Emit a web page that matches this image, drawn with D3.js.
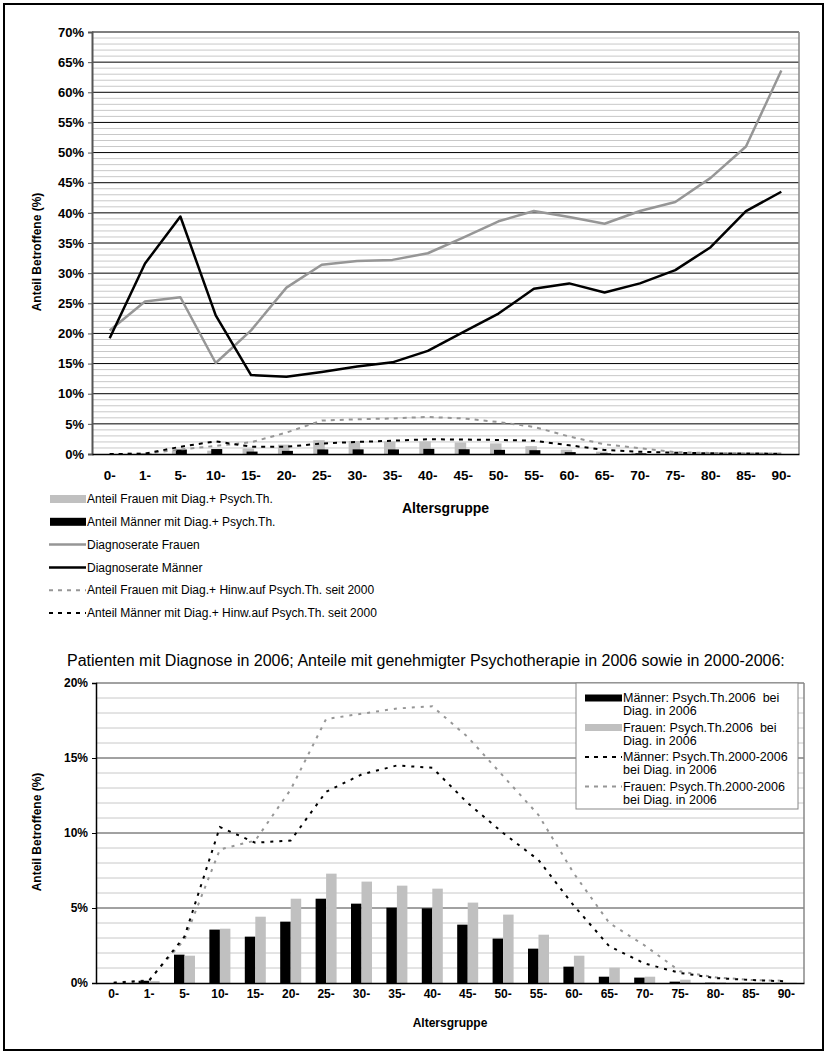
<!DOCTYPE html>
<html><head><meta charset="utf-8">
<script src="https://cdn.jsdelivr.net/npm/d3@7"></script>
<style>
body{margin:0;background:#fff}
text{font-family:"Liberation Sans",Arial,sans-serif;fill:#000}
</style>
</head><body>
<svg id="c" width="828" height="1055"></svg>
<script>
// Age groups (x categories)
const ageGroups = ["0-","1-","5-","10-","15-","20-","25-","30-","35-","40-","45-","50-","55-","60-","65-","70-","75-","80-","85-","90-"];

// Upper chart: diagnosis rate and shares of population (%)
const rateWomen = [20.5,25.3,26.0,15.1,20.5,27.6,31.4,32.0,32.2,33.3,35.9,38.6,40.3,39.3,38.2,40.3,41.8,45.8,51.0,63.6];
const rateMen   = [19.2,31.6,39.4,23.0,13.1,12.8,13.6,14.5,15.2,17.1,20.2,23.3,27.4,28.3,26.8,28.3,30.5,34.3,40.3,43.5];
const barWomenTop = [0.0,0.03,0.47,0.55,0.91,1.55,2.29,2.16,2.09,2.09,1.92,1.76,1.30,0.72,0.39,0.17,0.09,0.02,0.01,0.01];
const barMenTop   = [0.0,0.05,0.74,0.82,0.40,0.52,0.76,0.77,0.76,0.85,0.79,0.69,0.63,0.31,0.11,0.10,0.03,0.01,0.0,0.0];
const hintWomenTop = [0.0,0.05,0.75,1.35,1.95,3.55,5.55,5.75,5.90,6.15,5.90,5.30,4.50,2.90,1.60,0.95,0.30,0.17,0.10,0.10];
const hintMenTop   = [0.0,0.05,1.20,2.10,1.22,1.20,1.74,2.00,2.20,2.45,2.40,2.33,2.20,1.45,0.67,0.37,0.20,0.11,0.08,0.05];
const topTicks = [0,5,10,15,20,25,30,35,40,45,50,55,60,65,70];

// Lower chart: shares of diagnosed patients with psychotherapy (%)
const therapyMen2006   = [0.0,0.15,1.89,3.56,3.09,4.09,5.62,5.29,5.02,4.98,3.89,2.96,2.29,1.09,0.42,0.36,0.09,0.02,0.01,0.01];
const therapyWomen2006 = [0.0,0.13,1.82,3.62,4.42,5.62,7.29,6.76,6.49,6.29,5.36,4.56,3.22,1.82,1.02,0.42,0.22,0.05,0.02,0.02];
const therapyMen2000   = [0.02,0.15,3.1,10.4,9.35,9.5,12.75,13.9,14.5,14.35,12.0,10.0,8.2,5.15,2.45,1.3,0.67,0.33,0.2,0.11];
const therapyWomen2000 = [0.02,0.2,2.9,8.9,9.5,12.9,17.6,17.95,18.3,18.45,16.4,13.8,11.2,7.3,4.0,2.5,0.78,0.38,0.2,0.15];
const bottomTicks = [0,5,10,15,20];

const FONT = "Liberation Sans, Arial, sans-serif";
const GRAY_LINE = "#969696", GRAY_BAR = "#c0c0c0", MINOR = "#c8c8c8";
const svg = d3.select("#c");
svg.append("rect").attr("width",828).attr("height",1055).attr("fill","#fff");
svg.append("rect").attr("x",4).attr("y",4).attr("width",819).attr("height",1046)
  .attr("fill","none").attr("stroke","#000").attr("stroke-width",2);

// ---------- Upper chart ----------
const T = {left:92, right:799, top:32, bottom:454};
const xT = d3.scaleBand().domain(ageGroups).range([T.left, T.right]);
const yT = d3.scaleLinear().domain([0,70]).range([T.bottom, T.top]);
const cT = d => xT(d) + xT.bandwidth()/2;

const gT = svg.append("g");
gT.selectAll("line.minor").data(d3.range(1,70).filter(v => v % 5 !== 0)).join("line")
  .attr("x1",T.left).attr("x2",T.right).attr("y1",d=>yT(d)).attr("y2",d=>yT(d))
  .attr("stroke",MINOR).attr("stroke-width",1);
gT.selectAll("line.major").data(topTicks.filter(v=>v>0)).join("line")
  .attr("x1",T.left).attr("x2",T.right).attr("y1",d=>yT(d)).attr("y2",d=>yT(d))
  .attr("stroke","#000").attr("stroke-width",1);
gT.append("line").attr("x1",T.right).attr("x2",T.right).attr("y1",T.top).attr("y2",T.bottom)
  .attr("stroke","#888").attr("stroke-width",1.5);

// bars
gT.selectAll("rect.w").data(ageGroups).join("rect")
  .attr("x",d=>cT(d)-8.5).attr("width",11.5)
  .attr("y",(d,i)=>yT(barWomenTop[i])).attr("height",(d,i)=>yT(0)-yT(barWomenTop[i]))
  .attr("fill",GRAY_BAR);
gT.selectAll("rect.m").data(ageGroups).join("rect")
  .attr("x",d=>cT(d)-4.5).attr("width",11)
  .attr("y",(d,i)=>yT(barMenTop[i])).attr("height",(d,i)=>yT(0)-yT(barMenTop[i]))
  .attr("fill","#000");

const lineT = d3.line().x((v,i)=>cT(ageGroups[i])).y(v=>yT(v));
gT.append("path").datum(hintWomenTop).attr("d",lineT).attr("fill","none")
  .attr("stroke",GRAY_LINE).attr("stroke-width",2).attr("stroke-dasharray","4,5");
gT.append("path").datum(hintMenTop).attr("d",lineT).attr("fill","none")
  .attr("stroke","#000").attr("stroke-width",2).attr("stroke-dasharray","4,5");
gT.append("path").datum(rateWomen).attr("d",lineT).attr("fill","none")
  .attr("stroke",GRAY_LINE).attr("stroke-width",2.5).attr("stroke-linejoin","round");
gT.append("path").datum(rateMen).attr("d",lineT).attr("fill","none")
  .attr("stroke","#000").attr("stroke-width",2.5).attr("stroke-linejoin","round");

// axes
const axT = gT.append("g").attr("transform",`translate(${T.left},0)`)
  .call(d3.axisLeft(yT).tickValues(topTicks).tickFormat(d=>d+"%").tickSize(4).tickPadding(4));
axT.select(".domain").attr("stroke","#555").attr("stroke-width",2);
axT.selectAll(".tick line").attr("stroke","#555");
axT.selectAll("text").attr("font-size",13).attr("font-weight","bold").attr("font-family",FONT);
const axTx = gT.append("g").attr("transform",`translate(0,${T.bottom})`)
  .call(d3.axisBottom(xT).tickSize(0).tickPadding(16));
axTx.select(".domain").attr("stroke","#000").attr("stroke-width",1.5);
axTx.selectAll("text").attr("font-size",13.5).attr("font-weight","bold").attr("font-family",FONT);

svg.append("text").attr("x",(T.left+T.right)/2).attr("y",508).attr("dy","0.35em").attr("text-anchor","middle")
  .attr("font-size",14).attr("font-weight","bold").text("Altersgruppe");
svg.append("text").attr("transform",`translate(41,252) rotate(-90)`).attr("text-anchor","middle")
  .attr("font-size",12).attr("font-weight","bold").text("Anteil Betroffene (%)");

// legend (upper chart)
const legT = [
  {label:"Anteil Frauen mit Diag.+ Psych.Th.", type:"bar", color:GRAY_BAR},
  {label:"Anteil Männer mit Diag.+ Psych.Th.", type:"bar", color:"#000"},
  {label:"Diagnoserate Frauen", type:"line", color:GRAY_LINE},
  {label:"Diagnoserate Männer", type:"line", color:"#000"},
  {label:"Anteil Frauen mit Diag.+ Hinw.auf Psych.Th. seit 2000", type:"dash", color:GRAY_LINE},
  {label:"Anteil Männer mit Diag.+ Hinw.auf Psych.Th. seit 2000", type:"dash", color:"#000"}
];
const lg = svg.append("g");
legT.forEach((it,i)=>{
  const y = 499 + i*22.8;
  if (it.type==="bar") lg.append("rect").attr("x",50).attr("y",y-4).attr("width",36).attr("height",8).attr("fill",it.color);
  else lg.append("line").attr("x1",49).attr("x2",86).attr("y1",y).attr("y2",y)
    .attr("stroke",it.color).attr("stroke-width",it.type==="line"?2.5:2)
    .attr("stroke-dasharray",it.type==="dash"?"4,5":null);
  lg.append("text").attr("x",87).attr("y",y).attr("dy","0.35em").attr("font-size",12).text(it.label);
});

// ---------- Lower chart ----------
const B = {left:96, right:804, top:683, bottom:983};
const xB = d3.scaleBand().domain(ageGroups).range([B.left, B.right]);
const yB = d3.scaleLinear().domain([0,20]).range([B.bottom, B.top]);
const cB = d => xB(d) + xB.bandwidth()/2;

svg.append("text").attr("x",67).attr("y",660).attr("dy","0.35em").attr("font-size",16)
  .text("Patienten mit Diagnose in 2006; Anteile mit genehmigter Psychotherapie in 2006 sowie in 2000-2006:");

const gB = svg.append("g");
gB.selectAll("line.minor").data(d3.range(1,20).filter(v => v % 5 !== 0)).join("line")
  .attr("x1",B.left).attr("x2",B.right).attr("y1",d=>yB(d)).attr("y2",d=>yB(d))
  .attr("stroke",MINOR).attr("stroke-width",1);
gB.selectAll("line.major").data(bottomTicks.filter(v=>v>0)).join("line")
  .attr("x1",B.left).attr("x2",B.right).attr("y1",d=>yB(d)).attr("y2",d=>yB(d))
  .attr("stroke","#444").attr("stroke-width",1);
gB.append("line").attr("x1",B.right).attr("x2",B.right).attr("y1",B.top).attr("y2",B.bottom)
  .attr("stroke","#888").attr("stroke-width",1.5);

gB.selectAll("rect.m").data(ageGroups).join("rect")
  .attr("x",d=>cB(d)-10.5).attr("width",10.5)
  .attr("y",(d,i)=>yB(therapyMen2006[i])).attr("height",(d,i)=>yB(0)-yB(therapyMen2006[i]))
  .attr("fill","#000");
gB.selectAll("rect.w").data(ageGroups).join("rect")
  .attr("x",d=>cB(d)).attr("width",10.5)
  .attr("y",(d,i)=>yB(therapyWomen2006[i])).attr("height",(d,i)=>yB(0)-yB(therapyWomen2006[i]))
  .attr("fill",GRAY_BAR);

const lineB = d3.line().x((v,i)=>cB(ageGroups[i])).y(v=>yB(v));
gB.append("path").datum(therapyWomen2000).attr("d",lineB).attr("fill","none")
  .attr("stroke",GRAY_LINE).attr("stroke-width",2).attr("stroke-dasharray","3,6");
gB.append("path").datum(therapyMen2000).attr("d",lineB).attr("fill","none")
  .attr("stroke","#000").attr("stroke-width",2).attr("stroke-dasharray","3,6");

const axB = gB.append("g").attr("transform",`translate(${B.left},0)`)
  .call(d3.axisLeft(yB).tickValues(bottomTicks).tickFormat(d=>d+"%").tickSize(4).tickPadding(4));
axB.select(".domain").attr("stroke","#000").attr("stroke-width",1.5);
axB.selectAll(".tick line").attr("stroke","#000");
axB.selectAll("text").attr("font-size",12).attr("font-weight","bold").attr("font-family",FONT);
const axBx = gB.append("g").attr("transform",`translate(0,${B.bottom})`)
  .call(d3.axisBottom(xB).tickSize(0).tickPadding(6));
axBx.select(".domain").attr("stroke","#000").attr("stroke-width",1.5);
axBx.selectAll("text").attr("font-size",12).attr("font-weight","bold").attr("font-family",FONT);

svg.append("text").attr("x",(B.left+B.right)/2).attr("y",1023).attr("dy","0.35em").attr("text-anchor","middle")
  .attr("font-size",12).attr("font-weight","bold").text("Altersgruppe");
svg.append("text").attr("transform",`translate(41,832) rotate(-90)`).attr("text-anchor","middle")
  .attr("font-size",12).attr("font-weight","bold").text("Anteil Betroffene (%)");

// legend box (lower chart)
const lb = svg.append("g");
lb.append("rect").attr("x",576).attr("y",683).attr("width",222).attr("height",126)
  .attr("fill","#fff").attr("stroke","#888").attr("stroke-width",1);
const legB = [
  {lines:["Männer: Psych.Th.2006  bei","Diag. in 2006"], type:"bar", color:"#000"},
  {lines:["Frauen: Psych.Th.2006  bei","Diag. in 2006"], type:"bar", color:GRAY_BAR},
  {lines:["Männer: Psych.Th.2000-2006","bei Diag. in 2006"], type:"dash", color:"#000"},
  {lines:["Frauen: Psych.Th.2000-2006","bei Diag. in 2006"], type:"dash", color:GRAY_LINE}
];
legB.forEach((it,i)=>{
  const y = 698 + i*29.5;
  if (it.type==="bar") lb.append("rect").attr("x",585).attr("y",y-3.5).attr("width",37).attr("height",7).attr("fill",it.color);
  else lb.append("line").attr("x1",585).attr("x2",622).attr("y1",y).attr("y2",y)
    .attr("stroke",it.color).attr("stroke-width",2).attr("stroke-dasharray","4,5");
  const t = lb.append("text").attr("x",623).attr("y",y).attr("dy","0.35em").attr("font-size",12.5)
    .attr("xml:space","preserve");
  t.append("tspan").attr("x",623).text(it.lines[0]);
  t.append("tspan").attr("x",623).attr("dy","1.02em").text(it.lines[1]);
});
</script>
</body></html>
